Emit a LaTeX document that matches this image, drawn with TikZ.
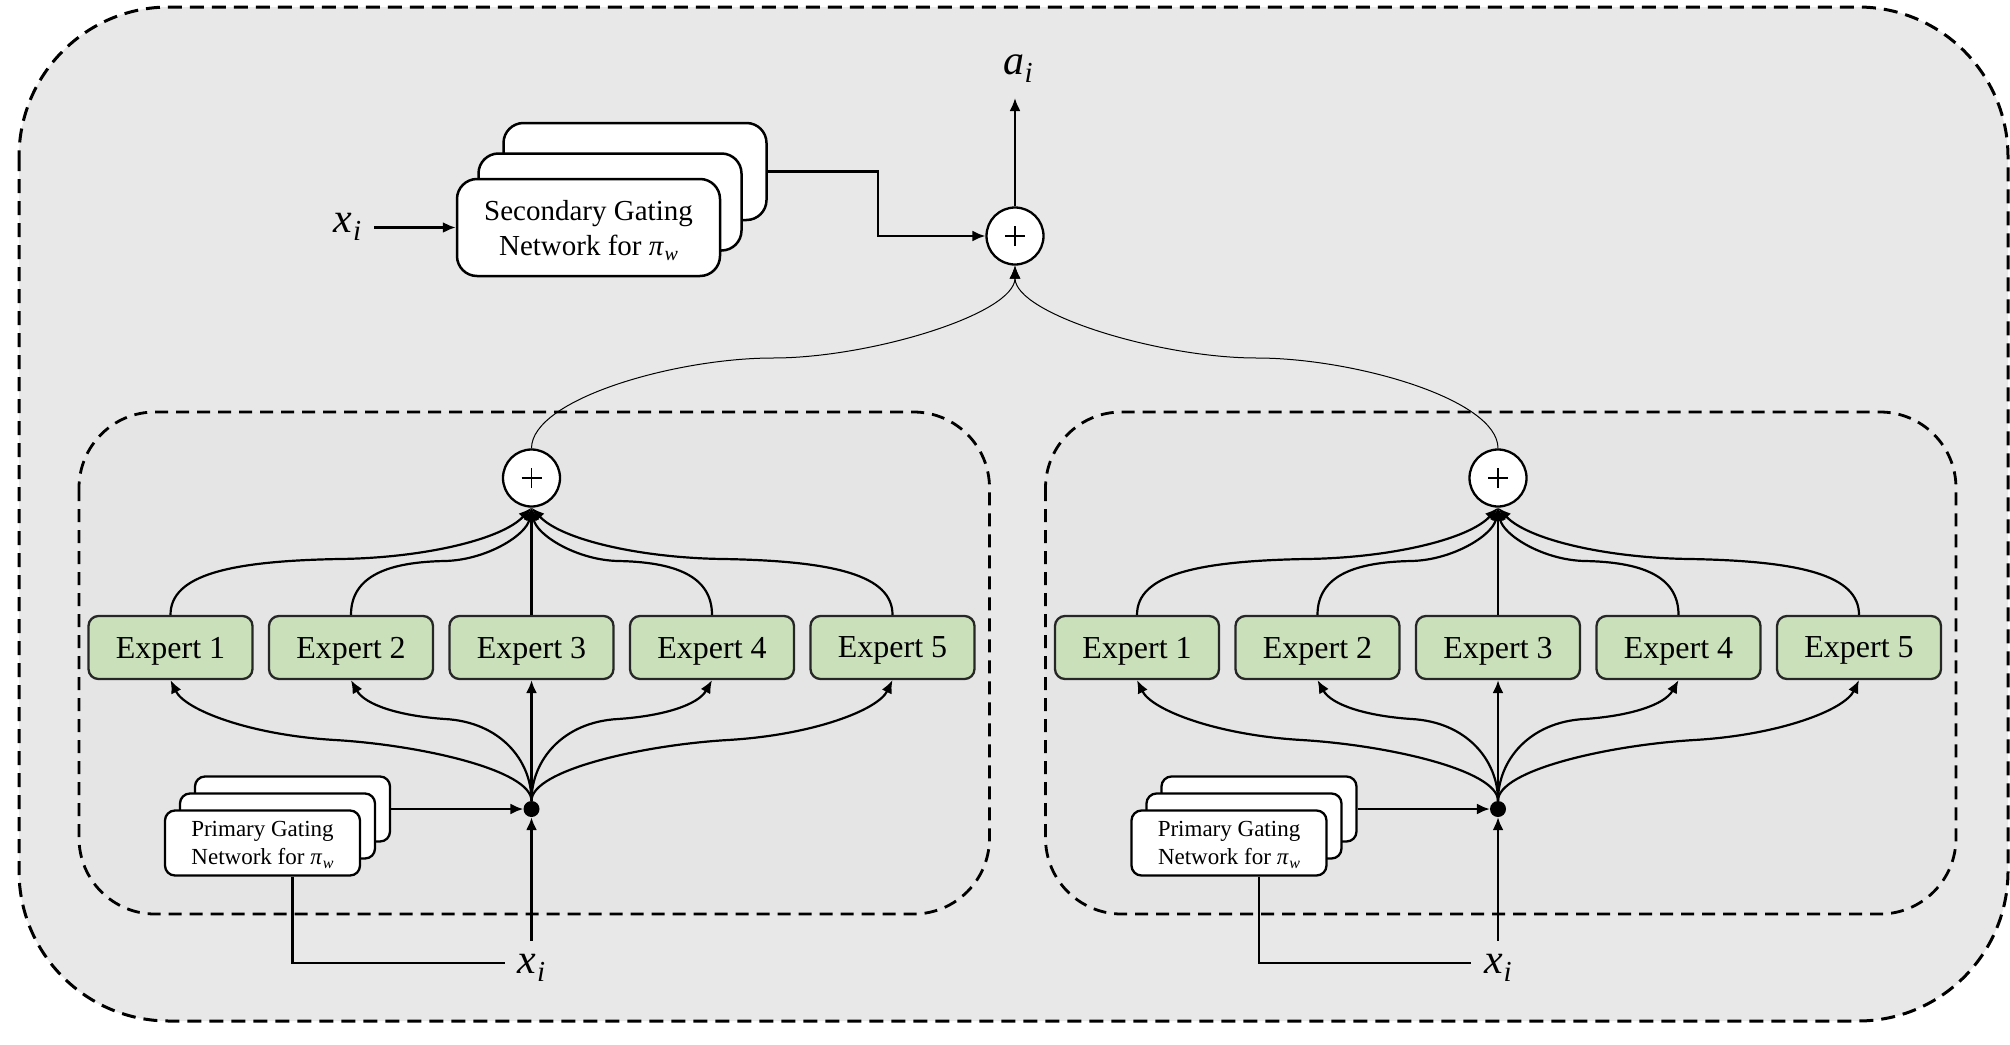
\documentclass[tikz,border=0pt]{standalone}
\usepackage{fontspec}
\setmainfont{Liberation Serif}
\usetikzlibrary{arrows.meta}
\definecolor{outerbg}{RGB}{232,232,232}
\definecolor{innerbg}{RGB}{229,229,229}
\definecolor{expgreen}{RGB}{201,224,187}
% italic symbol with italic subscript: #1 main, #2 sub, #3 sub size, #4 drop
\newcommand\isub[4]{\textit{#1}\kern0.5pt\raisebox{-#4}{\fontsize{#3}{#3}\selectfont\textit{#2}}}
\tikzset{
  conn/.style={line width=2.2pt,-{Latex[length=13pt,width=11pt]}},
  thinconn/.style={line width=1pt,-{Latex[length=13pt,width=11pt]}},
  plain/.style={line width=2.2pt},
  outerbox/.style={draw=black,line width=3pt,dash pattern=on 14pt off 8pt,fill=outerbg,rounded corners=150pt},
  innerbox/.style={draw=black,line width=2.8pt,dash pattern=on 13pt off 8pt,fill=innerbg,rounded corners=76pt},
  expert/.style={draw=black!85,line width=2.3pt,fill=expgreen,rounded corners=10pt,minimum width=164pt,minimum height=63pt,inner sep=0pt,text depth=0pt,font=\fontsize{32}{38}\selectfont},
  sumnode/.style={circle,draw=black,line width=2.3pt,fill=white,minimum size=57pt,inner sep=0pt,
    path picture={\draw[line width=1.4pt] ([xshift=-10pt]path picture bounding box.center) -- ([xshift=10pt]path picture bounding box.center);
                  \draw[line width=1.4pt] ([yshift=-10pt]path picture bounding box.center) -- ([yshift=10pt]path picture bounding box.center);}},
  dotnode/.style={circle,fill=black,minimum size=16pt,inner sep=0pt},
  pgbox/.style={draw=black,line width=2.3pt,fill=white,rounded corners=10pt,minimum width=195pt,minimum height=65pt,inner sep=0pt,align=center,font=\fontsize{23}{28}\selectfont},
  sgbox/.style={draw=black,line width=2.5pt,fill=white,rounded corners=20pt,minimum width=263pt,minimum height=97pt,inner sep=0pt,align=center,font=\fontsize{29}{35}\selectfont},
  varlbl/.style={inner sep=3pt,outer sep=10pt,font=\fontsize{42}{50}\selectfont},
  moegroup/.pic={
    \draw[innerbox] (-452.5,412) rectangle (458,914);
    \node[sumnode] (plus) at (0,478) {};
    \foreach \n/\x in {1/-361,2/-180.5,3/0,4/180.5,5/361}
      \node[expert] (E\n) at (\x,647.5) {Expert \n};
    \node[dotnode] (dot) at (0,809) {};
    \node[pgbox] (pg3) at (-239,809) {};
    \node[pgbox] (pg2) at (-254,826) {};
    \node[pgbox,text depth=0pt] (pg1) at (-269,843) {Primary Gating\\Network for \isub{π}{w}{16}{4pt}};
    \node[varlbl,anchor=base] (xi) at (0,973) {\isub{x}{i}{29}{8pt}};
    % experts to sum
    \draw[conn] (E1.north) .. controls (-361,575) and (-302,561) .. (-192,559) .. controls (-110,558) and (-30,540) .. (plus.south);
    \draw[conn] (E2.north) .. controls (-180.5,575) and (-141.5,562) .. (-86.5,561) .. controls (-45,560) and (-5,535) .. (plus.south);
    \draw[conn] (E3.north) -- (plus.south);
    \draw[conn] (E4.north) .. controls (180.5,575) and (141.5,562) .. (86.5,561) .. controls (45,560) and (5,535) .. (plus.south);
    \draw[conn] (E5.north) .. controls (361,575) and (302,561) .. (192,559) .. controls (110,558) and (30,540) .. (plus.south);
    % dot to experts
    \draw[conn] (dot.north) .. controls (0,770) and (-111.5,745) .. (-196.5,740) .. controls (-281.5,735) and (-346.5,710) .. (E1.south);
    \draw[conn] (dot.north) .. controls (0,760) and (-31.5,722) .. (-86.5,719) .. controls (-131.5,716) and (-166.5,705) .. (E2.south);
    \draw[conn] (dot.north) -- (E3.south);
    \draw[conn] (dot.north) .. controls (0,760) and (31.5,722) .. (86.5,719) .. controls (131.5,716) and (166.5,705) .. (E4.south);
    \draw[conn] (dot.north) .. controls (0,770) and (111.5,745) .. (196.5,740) .. controls (281.5,735) and (346.5,710) .. (E5.south);
    % gating and input
    \draw[conn] (pg3.east) -- (dot.west);
    \draw[conn] (xi.north) -- (dot.south);
    \draw[plain] (pg1.south -| pg3.center) |- ([yshift=4pt]xi.west);
  }
}
\begin{document}
\begin{tikzpicture}[x=1pt,y=-1pt]
  \useasboundingbox (0,0) rectangle (2010,1044);
  \draw[outerbox] (19,7) rectangle (2008,1021);
  \pic (L) at (531.5,0) {moegroup};
  \pic (R) at (1498,0) {moegroup};
  % top part
  \node[sgbox] (sg3) at (635,171.5) {};
  \node[sgbox] (sg2) at (610,202) {};
  \node[sgbox,text depth=0pt] (sg1) at (588.5,227.5) {Secondary Gating\\Network for \isub{π}{w}{20}{5pt}};
  \node[varlbl,anchor=base] (xtop) at (347.5,232) {\isub{x}{i}{29}{8pt}};
  \node[sumnode] (top) at (1015,236) {};
  \node[varlbl,anchor=base] (ai) at (1018,74) {\isub{a}{i}{29}{8pt}};
  \coordinate (aitip) at (1015,98);
  \draw[conn] (xtop.east |- sg1.west) -- (sg1.west);
  \draw[conn] (sg3.east) -- ++(110,0) |- (top.west);
  \draw[conn] (top.north) -- (aitip);
  \draw[thinconn] (Lplus.north) .. controls (531.5,399) and (676,358) .. (773,358) .. controls (870,358) and (1015,314) .. (top.south);
  \draw[thinconn] (Rplus.north) .. controls (1498,399) and (1353,358) .. (1256.5,358) .. controls (1160,358) and (1015,314) .. (top.south);
\end{tikzpicture}
\end{document}
